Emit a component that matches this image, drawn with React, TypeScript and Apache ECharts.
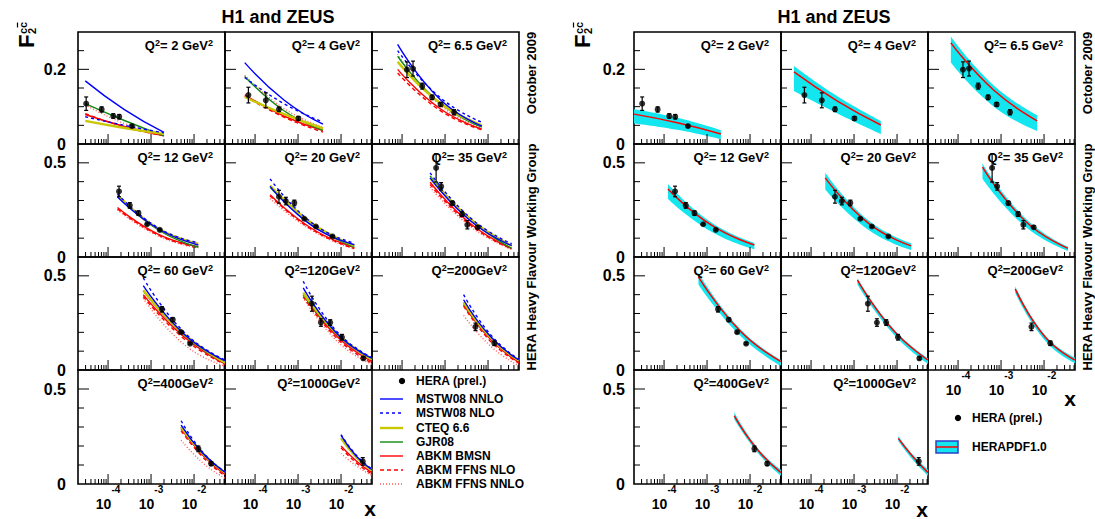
import React, { useEffect, useRef } from "react";
import * as echarts from "echarts";

// ---------- data ----------
const Q2_BINS = ["2", "4", "6.5", "12", "20", "35", "60", "120", "200", "400", "1000"];

// HERA (prel.) measurements: x, F2cc, error
const DATA_X = [
  [3.1e-5, 7.1e-5, 1.32e-4, 1.82e-4, 3.6e-4],
  [7.0e-5, 1.78e-4, 3.6e-4, 1.02e-3],
  [1.3e-4, 1.8e-4, 2.95e-4, 5.0e-4, 7.9e-4, 1.62e-3],
  [1.8e-4, 3.2e-4, 5.1e-4, 8.1e-4, 1.6e-3],
  [3.6e-4, 5.2e-4, 8.2e-4, 1.4e-3, 2.6e-3, 6.3e-3],
  [6.2e-4, 8.1e-4, 1.48e-3, 2.5e-3, 3.3e-3, 5.75e-3],
  [1.8e-3, 3.2e-3, 5.0e-3, 8.1e-3],
  [2.1e-3, 3.4e-3, 5.6e-3, 1.05e-2, 3.3e-2],
  [5.1e-3, 1.4e-2],
  [1.26e-2, 2.5e-2],
  [3.2e-2],
];
const DATA_F2 = [
  [0.108, 0.0925, 0.075, 0.073, 0.048],
  [0.131, 0.117, 0.093, 0.0685],
  [0.199, 0.202, 0.155, 0.125, 0.106, 0.085],
  [0.348, 0.274, 0.233, 0.174, 0.144],
  [0.32, 0.297, 0.287, 0.203, 0.162, 0.109],
  [0.473, 0.375, 0.286, 0.228, 0.171, 0.158],
  [0.322, 0.267, 0.201, 0.14],
  [0.352, 0.252, 0.252, 0.174, 0.062],
  [0.229, 0.142],
  [0.185, 0.107],
  [0.119],
];
const DATA_ERR = [
  [0.018, 0.007, 0.006, 0.006, 0.003],
  [0.021, 0.02, 0.006, 0.005],
  [0.021, 0.02, 0.008, 0.006, 0.005, 0.007],
  [0.028, 0.015, 0.012, 0.005, 0.005],
  [0.034, 0.02, 0.015, 0.005, 0.005, 0.005],
  [0.075, 0.02, 0.01, 0.012, 0.022, 0.008],
  [0.014, 0.01, 0.006, 0.005],
  [0.04, 0.02, 0.015, 0.015, 0.008],
  [0.02, 0.012],
  [0.015, 0.01],
  [0.02],
];

// theory predictions (left panel): x nodes and values per bin
const THEORY_X = [
  [2.95e-5, 2.4e-4, 2.0e-3],
  [5.75e-5, 4.7e-4, 3.8e-3],
  [7.9e-5, 7.6e-4, 7.2e-3],
  [1.66e-4, 1.45e-3, 1.26e-2],
  [2.24e-4, 2.14e-3, 2.04e-2],
  [4.5e-4, 4.0e-3, 3.55e-2],
  [6.6e-4, 5.9e-3, 5.25e-2],
  [1.32e-3, 8.3e-3, 5.25e-2],
  [2.7e-3, 1.17e-2, 5.25e-2],
  [5.0e-3, 1.62e-2, 5.25e-2],
  [1.0e-2, 2.3e-2, 5.25e-2],
];
const MSTW08_NNLO = [
  [0.169, 0.092, 0.031], [0.218, 0.118, 0.053], [0.267, 0.12, 0.048], [0.318, 0.15, 0.064],
  [0.375, 0.165, 0.065], [0.42, 0.19, 0.06], [0.448, 0.19, 0.048], [0.436, 0.19, 0.062],
  [0.373, 0.175, 0.053], [0.31, 0.16, 0.062], [0.256, 0.145, 0.075],
];
const MSTW08_NLO = [
  [0.073, 0.05, 0.03], [0.178, 0.108, 0.059], [0.25, 0.125, 0.058], [0.335, 0.155, 0.075],
  [0.415, 0.18, 0.073], [0.447, 0.205, 0.07], [0.489, 0.2, 0.053], [0.471, 0.2, 0.066],
  [0.4, 0.185, 0.056], [0.333, 0.165, 0.064], [0.26, 0.15, 0.078],
];
const CTEQ66 = [
  [0.062, 0.043, 0.027], [0.126, 0.08, 0.042], [0.22, 0.11, 0.05], [0.33, 0.152, 0.07],
  [0.38, 0.178, 0.06], [0.42, 0.2, 0.06], [0.423, 0.19, 0.04], [0.41, 0.19, 0.058],
  [0.36, 0.17, 0.05], [0.3, 0.16, 0.06], [0.24, 0.14, 0.072],
];
const GJR08 = [
  [0.108, 0.063, 0.022], [0.181, 0.089, 0.037], [0.235, 0.11, 0.045], [0.325, 0.145, 0.052],
  [0.37, 0.17, 0.052], [0.43, 0.195, 0.046], [0.42, 0.185, 0.038], [0.4, 0.185, 0.055],
  [0.355, 0.168, 0.048], [0.3, 0.155, 0.058], [0.24, 0.14, 0.07],
];
const ABKM_BMSN = [
  [0.079, 0.047, 0.022], [0.132, 0.075, 0.036], [0.2, 0.095, 0.04], [0.263, 0.122, 0.055],
  [0.33, 0.15, 0.05], [0.397, 0.175, 0.045], [0.4, 0.175, 0.033], [0.4, 0.175, 0.045],
  [0.347, 0.16, 0.04], [0.29, 0.15, 0.05], [0.2, 0.12, 0.06],
];
const ABKM_FFNS_NLO = [
  [0.081, 0.046, 0.022], [0.128, 0.072, 0.032], [0.19, 0.09, 0.038], [0.255, 0.117, 0.05],
  [0.325, 0.145, 0.045], [0.385, 0.168, 0.042], [0.39, 0.165, 0.03], [0.39, 0.165, 0.036],
  [0.34, 0.15, 0.036], [0.28, 0.14, 0.043], [0.19, 0.11, 0.052],
];
const ABKM_FFNS_NNLO = [
  [0.105, 0.055, 0.025], [0.184, 0.095, 0.045], [0.24, 0.105, 0.042], [0.25, 0.112, 0.048],
  [0.31, 0.14, 0.042], [0.37, 0.16, 0.04], [0.38, 0.135, 0.02], [0.385, 0.15, 0.03],
  [0.29, 0.125, 0.022], [0.23, 0.11, 0.03], [0.16, 0.095, 0.045],
];

// HERAPDF1.0 band (right panel)
const BAND_X = [
  [2.0e-5, 2.04e-4, 2.1e-3],
  [4.0e-5, 4.1e-4, 4.2e-3],
  [6.8e-5, 6.8e-4, 6.9e-3],
  [1.23e-4, 1.24e-3, 1.26e-2],
  [2.14e-4, 2.14e-3, 2.14e-2],
  [3.7e-4, 3.7e-3, 3.6e-2],
  [6.3e-4, 5.75e-3, 5.25e-2],
  [1.2e-3, 7.9e-3, 5.25e-2],
  [2.14e-3, 1.06e-2, 5.25e-2],
  [4.3e-3, 1.5e-2, 5.25e-2],
  [1.07e-2, 2.37e-2, 5.25e-2],
];
const BAND_CENTRAL = [
  [0.08, 0.057, 0.027], [0.193, 0.115, 0.051], [0.271, 0.144, 0.062], [0.361, 0.17, 0.064],
  [0.42, 0.18, 0.059], [0.477, 0.19, 0.046], [0.495, 0.21, 0.044], [0.477, 0.215, 0.053],
  [0.43, 0.175, 0.053], [0.359, 0.18, 0.06], [0.24, 0.142, 0.06],
];
const BAND_LOW = [
  [0.055, 0.038, 0.0125], [0.142, 0.082, 0.027], [0.218, 0.1, 0.035], [0.308, 0.135, 0.041],
  [0.358, 0.145, 0.037], [0.415, 0.16, 0.032], [0.454, 0.185, 0.021], [0.454, 0.195, 0.032],
  [0.409, 0.155, 0.036], [0.341, 0.165, 0.043], [0.226, 0.125, 0.043],
];
const BAND_HIGH = [
  [0.093, 0.07, 0.037], [0.209, 0.128, 0.062], [0.288, 0.157, 0.077], [0.388, 0.185, 0.076],
  [0.447, 0.195, 0.073], [0.496, 0.205, 0.055], [0.516, 0.22, 0.053], [0.489, 0.225, 0.062],
  [0.445, 0.185, 0.066], [0.377, 0.19, 0.075], [0.253, 0.152, 0.075],
];

// axes
const X_MIN = 2e-5;
const X_MAX = 0.0525;
const X_MAJOR_TICKS = [1e-4, 1e-3, 1e-2];
const X_MINOR_TICKS = [
  3e-5, 4e-5, 5e-5, 6e-5, 7e-5, 8e-5, 9e-5,
  2e-4, 3e-4, 4e-4, 5e-4, 6e-4, 7e-4, 8e-4, 9e-4,
  2e-3, 3e-3, 4e-3, 5e-3, 6e-3, 7e-3, 8e-3, 9e-3,
  2e-2, 3e-2, 4e-2, 5e-2,
];
const Y_MAX_ROW = [0.3, 0.6, 0.6, 0.6];
const Y_MAJOR_TICKS = [[0.2], [0.5], [0.5], [0.5]];
const Y_MINOR_TICKS = [
  [0.05, 0.1, 0.15, 0.25],
  [0.1, 0.2, 0.3, 0.4],
  [0.1, 0.2, 0.3, 0.4],
  [0.1, 0.2, 0.3, 0.4],
];
const Y_LABELS = [[0, 0.2], [0, 0.5], [0, 0.5], [0, 0.5]];

// ---------- layout / styles ----------
const FONT = '"Liberation Sans", Arial, Helvetica, sans-serif';
const COL_LEFTS = [78, 225, 372];
const COL_W = 147;
const ROW_TOPS = [32, 144, 257, 370];
const ROW_BOTTOMS = [144, 257, 370, 484];
const PANEL_SHIFT = 556;
const CYAN = "#14e6ef";

const MODELS = [
  { name: "ABKM FFNS NNLO", data: ABKM_FFNS_NNLO, color: "#ff5a5a", type: [1, 2], width: 1.4 },
  { name: "ABKM FFNS NLO", data: ABKM_FFNS_NLO, color: "#ff0000", type: [4, 3], width: 1.4 },
  { name: "ABKM BMSN", data: ABKM_BMSN, color: "#ff0000", type: "solid", width: 1.4 },
  { name: "GJR08", data: GJR08, color: "#118a11", type: "solid", width: 1.4 },
  { name: "CTEQ 6.6", data: CTEQ66, color: "#c8c800", type: "solid", width: 2.4 },
  { name: "MSTW08 NLO", data: MSTW08_NLO, color: "#0000ff", type: [3, 3], width: 1.4 },
  { name: "MSTW08 NNLO", data: MSTW08_NNLO, color: "#0000ff", type: "solid", width: 1.4 },
];
const LEGEND_ORDER = [
  "MSTW08 NNLO", "MSTW08 NLO", "CTEQ 6.6", "GJR08", "ABKM BMSN", "ABKM FFNS NLO", "ABKM FFNS NNLO",
];

function isMember(v: number, list: number[]) {
  return list.some((l) => Math.abs(l - v) < 1e-9);
}

function errRender(params: any, api: any) {
  const x = api.value(0);
  const y = api.value(1);
  const e = api.value(2);
  const t = api.coord([x, y + e]);
  const b = api.coord([x, y - e]);
  const c = 2;
  const st = { stroke: "#000", lineWidth: 1.2 };
  return {
    type: "group",
    children: [
      { type: "line", shape: { x1: t[0], y1: t[1], x2: b[0], y2: b[1] }, style: st },
      { type: "line", shape: { x1: t[0] - c, y1: t[1], x2: t[0] + c, y2: t[1] }, style: st },
      { type: "line", shape: { x1: b[0] - c, y1: b[1], x2: b[0] + c, y2: b[1] }, style: st },
    ],
  };
}

function tickRender(params: any, api: any) {
  const kind = api.value(2);
  const p = api.coord([api.value(0), api.value(1)]);
  let shape;
  if (kind === 0 || kind === 1) {
    const len = kind === 1 ? 10 : 5;
    shape = { x1: p[0], y1: p[1], x2: p[0], y2: p[1] - len };
  } else {
    const len = kind === 3 ? 11 : 6;
    shape = { x1: p[0], y1: p[1], x2: p[0] + len, y2: p[1] };
  }
  return { type: "line", shape, style: { stroke: "#000", lineWidth: 1 } };
}

function q2Text(q: string) {
  const big = parseFloat(q) >= 100;
  return `{q|Q}{s|2}{q|${big ? "=" + q + "GeV" : "= " + q + " GeV"}}{s|2}`;
}

function buildOption() {
  const grid: any[] = [];
  const xAxis: any[] = [];
  const yAxis: any[] = [];
  const series: any[] = [];
  const graphic: any[] = [];

  for (let panel = 0; panel < 2; panel++) {
    for (let b = 0; b < Q2_BINS.length; b++) {
      const gi = panel * Q2_BINS.length + b;
      const row = Math.floor(b / 3);
      const col = b % 3;
      const left = COL_LEFTS[col] + panel * PANEL_SHIFT;
      const top = ROW_TOPS[row];
      const height = ROW_BOTTOMS[row] - top;
      grid.push({
        left, top, width: COL_W, height, show: true,
        borderColor: "#000", borderWidth: 1.6, backgroundColor: "rgba(0,0,0,0)",
      });
      const showX = panel === 0 ? row === 3 : row === 3 || b === 8;
      xAxis.push({
        type: "log", logBase: 10, gridIndex: gi, min: X_MIN, max: X_MAX,
        axisLine: { show: false }, axisTick: { show: false }, splitLine: { show: false },
        minorTick: { show: false }, minorSplitLine: { show: false },
        axisLabel: {
          show: showX, margin: 0, showMinLabel: true, showMaxLabel: true,
          formatter: (v: number) => {
            const e = Math.log10(v);
            if (Math.abs(e - Math.round(e)) > 0.01) return "";
            return `{a|10}{b|${Math.round(e)}}`;
          },
          rich: {
            a: { fontSize: 14, fontWeight: "bold", fontFamily: FONT, color: "#000", lineHeight: 27, verticalAlign: "bottom" },
            b: { fontSize: 10, fontWeight: "bold", fontFamily: FONT, color: "#000", lineHeight: 11, verticalAlign: "top" },
          },
        },
      });
      yAxis.push({
        type: "value", gridIndex: gi, min: 0, max: Y_MAX_ROW[row], interval: 0.1,
        axisLine: { show: false }, axisTick: { show: false }, splitLine: { show: false },
        axisLabel: {
          show: col === 0, margin: panel === 0 ? 12 : 9,
          fontSize: 16, fontWeight: "bold", fontFamily: FONT, color: "#000",
          formatter: (v: number) => (isMember(v, Y_LABELS[row]) ? (v === 0 ? "0" : String(v)) : ""),
        },
      });

      const base = { xAxisIndex: gi, yAxisIndex: gi, silent: true };

      if (panel === 0) {
        MODELS.forEach((m, k) => {
          series.push({
            ...base, type: "line", name: m.name, smooth: true, symbol: "none", showSymbol: false,
            z: 2 + k * 0.01,
            data: THEORY_X[b].map((x, i) => [x, m.data[b][i]]),
            lineStyle: { color: m.color, width: m.width, type: m.type },
          });
        });
      } else {
        // band: values first so that the stack is applied to the y dimension
        series.push({
          ...base, type: "line", stack: "band" + gi, smooth: true, symbol: "none", showSymbol: false, z: 1,
          encode: { x: 1, y: 0 },
          data: BAND_X[b].map((x, i) => [BAND_LOW[b][i], x]),
          lineStyle: { opacity: 0, width: 0 },
        });
        series.push({
          ...base, type: "line", stack: "band" + gi, smooth: true, symbol: "none", showSymbol: false, z: 1,
          encode: { x: 1, y: 0 },
          data: BAND_X[b].map((x, i) => [BAND_HIGH[b][i] - BAND_LOW[b][i], x]),
          lineStyle: { opacity: 0, width: 0 },
          areaStyle: { color: CYAN, opacity: 1 },
        });
        series.push({
          ...base, type: "line", smooth: true, symbol: "none", showSymbol: false, z: 2,
          data: BAND_X[b].map((x, i) => [x, BAND_CENTRAL[b][i]]),
          lineStyle: { color: "#ff0000", width: 1.5 },
        });
      }

      series.push({
        ...base, type: "custom", z: 4, renderItem: errRender, encode: { x: 0, y: 1 },
        data: DATA_X[b].map((x, i) => [x, DATA_F2[b][i], DATA_ERR[b][i]]),
      });
      series.push({
        ...base, type: "scatter", z: 5, symbol: "circle", symbolSize: 6,
        itemStyle: { color: "#000" },
        data: DATA_X[b].map((x, i) => [x, DATA_F2[b][i]]),
      });
      const tickData: any[] = [];
      X_MINOR_TICKS.forEach((t) => tickData.push([t, 0, 0]));
      X_MAJOR_TICKS.forEach((t) => tickData.push([t, 0, 1]));
      Y_MINOR_TICKS[row].forEach((t) => tickData.push([X_MIN, t, 2]));
      Y_MAJOR_TICKS[row].forEach((t) => tickData.push([X_MIN, t, 3]));
      series.push({
        ...base, type: "custom", z: 6, renderItem: tickRender, encode: { x: 0, y: 1 }, data: tickData,
      });

      // Q2 label
      graphic.push({
        type: "text", x: left + COL_W - 12, y: top + 13, z: 10,
        style: {
          text: q2Text(Q2_BINS[b]), textAlign: "right", textVerticalAlign: "middle",
          align: "right", verticalAlign: "middle",
          rich: {
            q: { fontSize: 13, fontWeight: "bold", fontFamily: FONT, fill: "#000", lineHeight: 14, verticalAlign: "bottom" },
            s: { fontSize: 9, fontWeight: "bold", fontFamily: FONT, fill: "#000", lineHeight: 9, verticalAlign: "top" },
          },
        },
      });
    }

    const sx = panel * PANEL_SHIFT;
    // title
    graphic.push({
      type: "text", x: 278 + sx, y: 17,
      style: {
        text: "H1 and ZEUS", fill: "#000", font: `bold 18px ${FONT}`,
        textAlign: "center", textVerticalAlign: "middle", align: "center", verticalAlign: "middle",
      },
    });
    // F2 cc label (rotated)
    graphic.push({
      type: "group", x: 37 + sx, y: 48, rotation: Math.PI / 2,
      children: [
        { type: "text", x: 0, y: 0, style: { text: "F", fill: "#000", font: `bold 22px ${FONT}`, textAlign: "left", textVerticalAlign: "bottom", align: "left", verticalAlign: "bottom" } },
        { type: "text", x: 14, y: 0, style: { text: "2", fill: "#000", font: `bold 11px ${FONT}`, textAlign: "left", textVerticalAlign: "bottom", align: "left", verticalAlign: "bottom" } },
        { type: "text", x: 14, y: -9, style: { text: "cc", fill: "#000", font: `bold 11px ${FONT}`, textAlign: "left", textVerticalAlign: "bottom", align: "left", verticalAlign: "bottom" } },
        { type: "line", shape: { x1: 20.5, y1: -19.5, x2: 25.5, y2: -19.5 }, style: { stroke: "#000", lineWidth: 1.2 } },
      ],
    });
    // side texts
    graphic.push({
      type: "text", x: 531 + sx, y: 73, rotation: Math.PI / 2,
      style: { text: "October 2009", fill: "#000", font: `bold 13px ${FONT}`, textAlign: "center", textVerticalAlign: "middle", align: "center", verticalAlign: "middle" },
    });
    graphic.push({
      type: "text", x: 531 + sx, y: 257, rotation: Math.PI / 2,
      style: { text: "HERA Heavy Flavour Working Group", fill: "#000", font: `bold 13px ${FONT}`, textAlign: "center", textVerticalAlign: "middle", align: "center", verticalAlign: "middle" },
    });
  }

  // x axis titles
  const xTitles = [[370, 508], [922, 509], [1070, 398]];
  xTitles.forEach(([x, y]) =>
    graphic.push({
      type: "text", x, y,
      style: { text: "x", fill: "#000", font: `bold 21px ${FONT}`, textAlign: "center", textVerticalAlign: "middle", align: "center", verticalAlign: "middle" },
    })
  );

  // left legend
  const legText = (x: number, y: number, t: string) => ({
    type: "text", x, y,
    style: { text: t, fill: "#000", font: `bold 12px ${FONT}`, textAlign: "left", textVerticalAlign: "middle", align: "left", verticalAlign: "middle" },
  });
  graphic.push({ type: "circle", shape: { cx: 402, cy: 381, r: 3.2 }, style: { fill: "#000" } });
  graphic.push(legText(416, 381, "HERA (prel.)"));
  const legY = [399, 413, 428, 442, 456, 470, 484];
  LEGEND_ORDER.forEach((name, i) => {
    const m = MODELS.find((mm) => mm.name === name)!;
    graphic.push({
      type: "line", shape: { x1: 380, y1: legY[i], x2: 403, y2: legY[i] },
      style: { stroke: m.color, lineWidth: m.width, lineDash: m.type === "solid" ? null : m.type },
    });
    graphic.push(legText(416, legY[i], name));
  });

  // right legend
  graphic.push({ type: "circle", shape: { cx: 958, cy: 418, r: 3.2 }, style: { fill: "#000" } });
  graphic.push(legText(972, 418, "HERA (prel.)"));
  graphic.push({ type: "rect", shape: { x: 936, y: 441, width: 22, height: 12 }, style: { fill: CYAN, stroke: "#2a3fc8", lineWidth: 1.5 } });
  graphic.push({ type: "line", shape: { x1: 936, y1: 447, x2: 958, y2: 447 }, style: { stroke: "#ff0000", lineWidth: 1.5 } });
  graphic.push(legText(972, 447, "HERAPDF1.0"));

  return {
    animation: false,
    backgroundColor: "#ffffff",
    textStyle: { fontFamily: FONT },
    grid, xAxis, yAxis, series, graphic,
  };
}

export default function App() {
  const ref = useRef<HTMLDivElement>(null);
  useEffect(() => {
    if (!ref.current) return;
    const chart = echarts.init(ref.current, undefined, { renderer: "svg" });
    chart.setOption(buildOption() as any);
    return () => chart.dispose();
  }, []);
  return (
    <div
      ref={ref}
      style={{ position: "absolute", left: 0, top: 0, width: 1095, height: 519, background: "#fff" }}
    />
  );
}
